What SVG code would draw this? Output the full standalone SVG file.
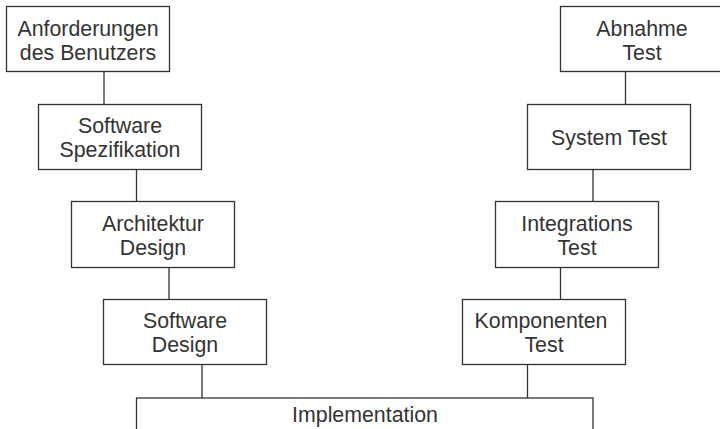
<svg xmlns="http://www.w3.org/2000/svg" width="720" height="429" viewBox="0 0 720 429">
<style>
.box{fill:#fff;stroke:#333;stroke-width:1.3}
.lbl{font-family:"Liberation Sans",Arial,sans-serif;font-size:21.33px;fill:#333;text-anchor:middle}
.con line{stroke:#333;stroke-width:1.3}
</style>
<rect width="720" height="429" fill="#fff"/>
<g class="con" id="connectors">
<line x1="104" y1="71.5" x2="104" y2="104.5"/>
<line x1="136.5" y1="169.5" x2="136.5" y2="201.5"/>
<line x1="169" y1="267.5" x2="169" y2="299.5"/>
<line x1="202" y1="364.5" x2="202" y2="398"/>
<line x1="625.5" y1="71.5" x2="625.5" y2="104.5"/>
<line x1="593" y1="169.5" x2="593" y2="201.5"/>
<line x1="560.5" y1="267.5" x2="560.5" y2="299.5"/>
<line x1="527.5" y1="364.5" x2="527.5" y2="398"/>
</g>
<g id="n1"><rect class="box" x="6.5" y="6.5" width="163" height="65"/><text class="lbl" x="88" y="35.5">Anforderungen</text><text class="lbl" x="88" y="59.5">des Benutzers</text></g>
<g id="n2"><rect class="box" x="38.5" y="104.5" width="163" height="65"/><text class="lbl" x="120" y="133">Software</text><text class="lbl" x="120" y="157">Spezifikation</text></g>
<g id="n3"><rect class="box" x="71.5" y="201.5" width="163" height="66"/><text class="lbl" x="153" y="230.5">Architektur</text><text class="lbl" x="153" y="254.5">Design</text></g>
<g id="n4"><rect class="box" x="103.5" y="299.5" width="163" height="65"/><text class="lbl" x="185" y="328">Software</text><text class="lbl" x="185" y="352">Design</text></g>
<g id="n5"><rect class="box" x="136.5" y="398" width="456.5" height="40"/><text class="lbl" x="365" y="421.5">Implementation</text></g>
<g id="n6"><rect class="box" x="462.5" y="299.5" width="163" height="65"/><text class="lbl" x="541" y="328">Komponenten</text><text class="lbl" x="544" y="352">Test</text></g>
<g id="n7"><rect class="box" x="495.5" y="201.5" width="163" height="66"/><text class="lbl" x="577" y="230.5">Integrations</text><text class="lbl" x="577" y="254.5">Test</text></g>
<g id="n8"><rect class="box" x="527.5" y="104.5" width="163" height="65"/><text class="lbl" x="609" y="144.5">System Test</text></g>
<g id="n9"><rect class="box" x="560.5" y="6.5" width="163" height="65"/><text class="lbl" x="642" y="35.5">Abnahme</text><text class="lbl" x="642" y="59.5">Test</text></g>
</svg>
